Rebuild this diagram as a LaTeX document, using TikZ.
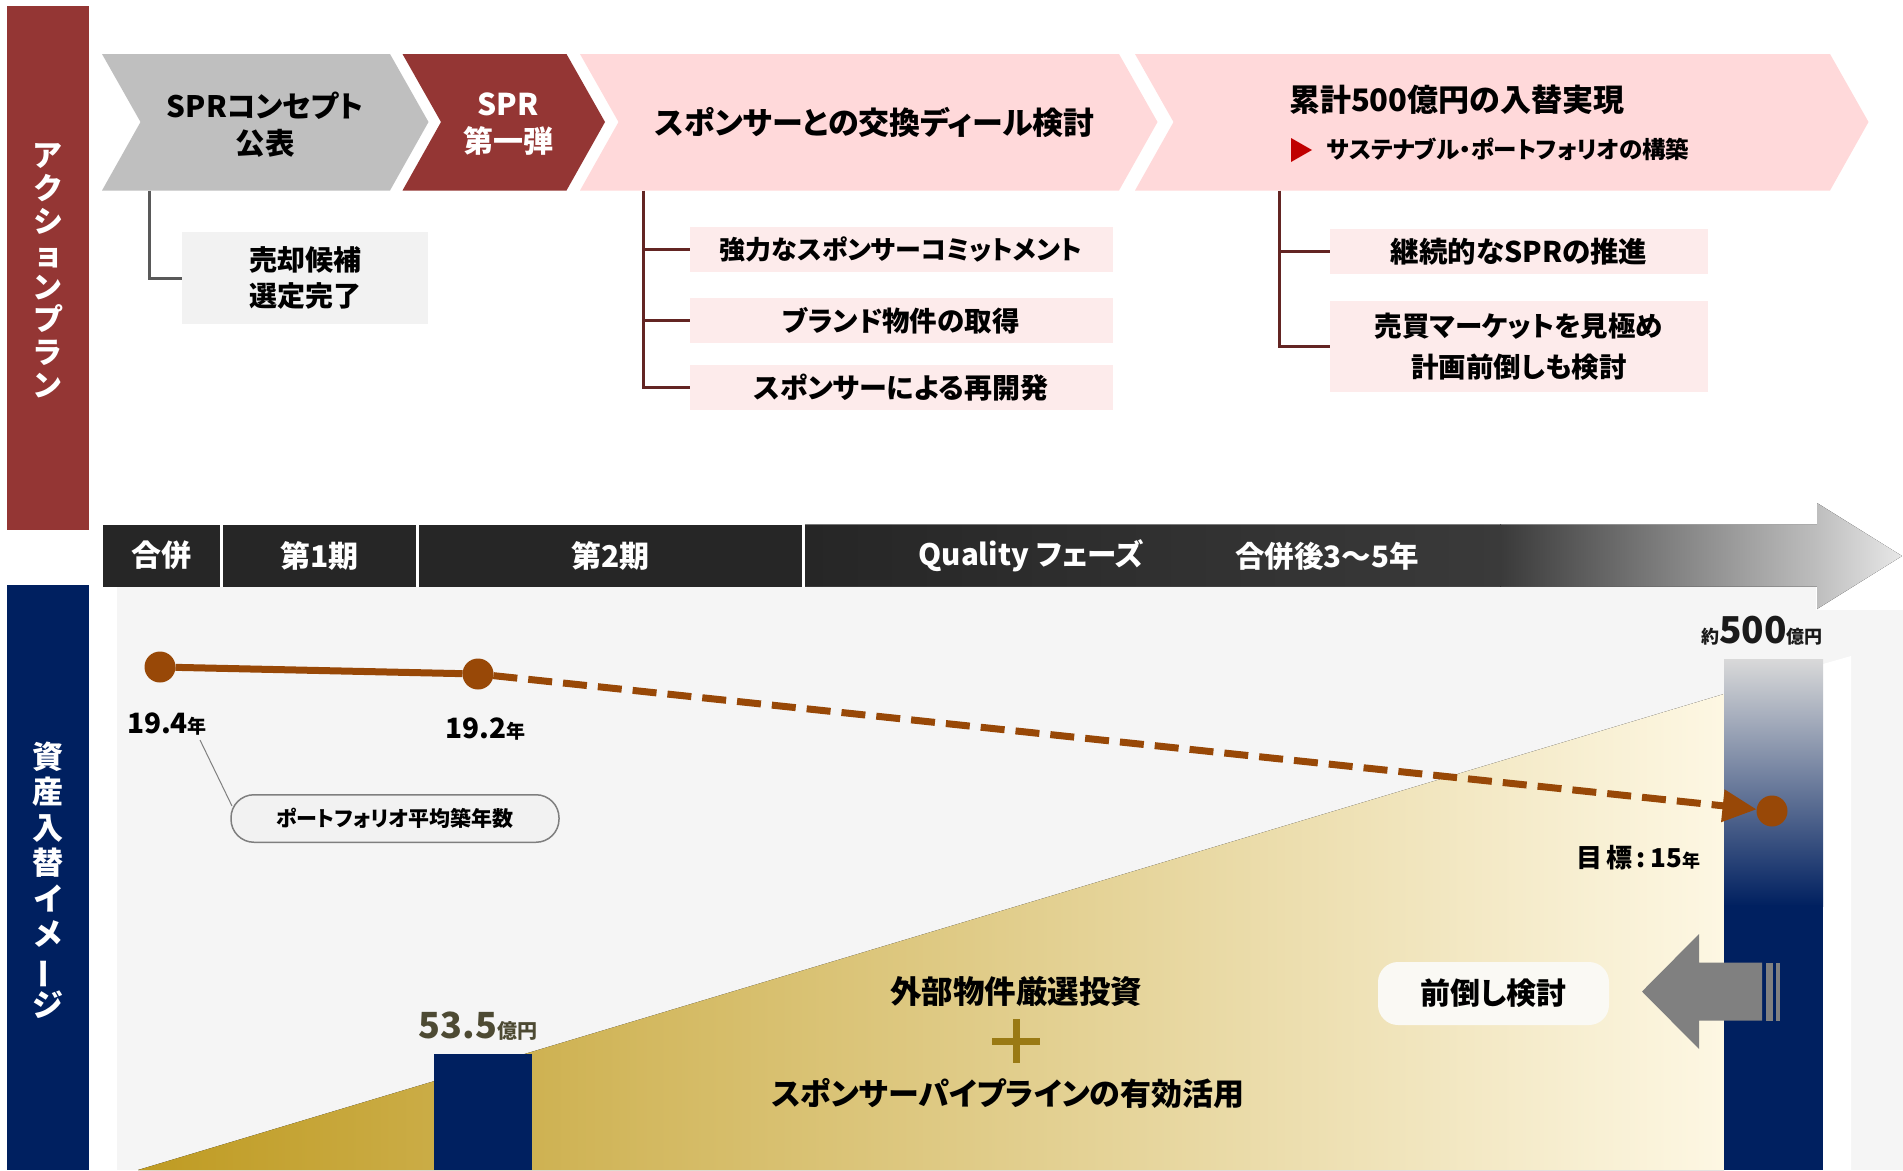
\documentclass[tikz,border=0pt]{standalone}
\usepackage{fontspec}
\usepackage{graphicx}
\setmainfont{Noto Sans CJK JP}[RawFeature=+palt]
\usetikzlibrary{arrows.meta}
\definecolor{spred}{HTML}{943634}
\definecolor{chgray}{HTML}{BFBFBF}
\definecolor{chpink}{HTML}{FFD9DA}
\definecolor{subpink}{HTML}{FDEBEB}
\definecolor{subgray}{HTML}{F2F2F2}
\definecolor{conred}{HTML}{632523}
\definecolor{congray}{HTML}{595959}
\definecolor{spnavy}{HTML}{002060}
\definecolor{spbrown}{HTML}{984807}
\definecolor{tldark}{HTML}{262626}
\definecolor{tlmid}{HTML}{3A3A3A}
\definecolor{tllight}{HTML}{BEBEBE}
\definecolor{tltip}{HTML}{E8E8E8}
\definecolor{panel}{HTML}{F5F5F5}
\definecolor{olive}{HTML}{4D4A33}
\definecolor{plusgold}{HTML}{9A7A14}
\definecolor{arrgray}{HTML}{808080}
\definecolor{offwhite}{HTML}{FAF9F4}
\definecolor{markred}{HTML}{C00000}
\definecolor{goldA}{HTML}{BF9B22}
\definecolor{goldB}{HTML}{E2CD82}
\definecolor{goldC}{HTML}{FDF7E3}
\definecolor{bartop}{HTML}{D9D9D9}
\definecolor{calloutline}{HTML}{7F7F7F}
\definecolor{nearblack}{HTML}{1A1A1A}
\newcommand\myfs[2]{\fontsize{#1}{#2}\selectfont}
\tikzset{
 base/.style={inner sep=0pt, outer sep=0pt},
 hd/.style={base, align=center, font=\myfs{30}{37}\bfseries},
 vtxt/.style={base, align=center, text=white},
 subbox/.style={base, align=center, fill=subpink, font=\myfs{27}{36}\bfseries},
 tcell/.style={base, fill=tldark, text=white, minimum height=62pt, font=\myfs{30}{36}\bfseries},
 ttext/.style={base, text=white, font=\myfs{29.5}{36}\bfseries},
 dotnode/.style={base, circle, fill=spbrown, minimum size=31pt},
 conn/.style={line width=3pt},
 bodytxt/.style={base, align=center, font=\myfs{30}{36}\bfseries},
}
\begin{document}
\begin{tikzpicture}[x=1pt,y=-1pt]
\useasboundingbox (0,0) rectangle (1903,1170);
\fill[white] (0,0) rectangle (1903,1170);

% ---------- left labels ----------
\fill[spred] (7,6) rectangle (89,530);
\node[vtxt, font=\myfs{30}{32.8}\bfseries] (apl) at (48,271) {ア\\ク\\シ\\ョ\\ン\\プ\\ラ\\ン};
\fill[spnavy] (7,585) rectangle (89,1170);
\node[vtxt, font=\myfs{31}{35.5}\bfseries] (asi) at (48,880) {資\\産\\入\\替\\イ\\メ\\\rotatebox[origin=c]{90}{ー}\\ジ};

% ---------- chevrons ----------
\fill[chgray] (102,54) -- (390,54) -- (428.5,122) -- (390,190.5) -- (102,190.5) -- (140.5,122) -- cycle;
\fill[spred] (402.5,54) -- (566.5,54) -- (605,122) -- (566.5,190.5) -- (402.5,190.5) -- (441,122) -- cycle;
\fill[chpink] (580,54) -- (1119,54) -- (1157.5,122) -- (1119,190.5) -- (580,190.5) -- (618.5,122) -- cycle;
\fill[chpink] (1135,54) -- (1830,54) -- (1868.5,122) -- (1830,190.5) -- (1135,190.5) -- (1173.5,122) -- cycle;

\node[hd, font=\myfs{29.5}{37}\bfseries] (c1) at (265,124.5) {SPRコンセプト\\公表};
\node[hd, text=white] (c2) at (508,124.5) {SPR\\第一弾};
\node[hd, font=\myfs{31}{37}\bfseries] (c3) at (875,122) {スポンサーとの交換ディール検討};
\node[hd, anchor=west, font=\myfs{31}{37}\bfseries] (c4) at (1289,100) {累計500億円の入替実現};
\fill[markred] (1291,138) -- (1312,150) -- (1291,162) -- cycle;
\node[base, anchor=west, font=\myfs{23.5}{26}\bfseries] (c4s) at (1327,149) {サステナブル・ポートフォリオの構築};

% ---------- sub boxes ----------
\node[subbox, fill=subgray, font=\myfs{28}{36}\bfseries, minimum width=246pt, minimum height=92pt] (b1) at (305,278) {売却候補\\選定完了};
\node[subbox, font=\myfs{26}{36}\bfseries, minimum width=423pt, minimum height=45pt] (b2) at (901,249) {強力なスポンサーコミットメント};
\node[subbox, font=\myfs{27.5}{36}\bfseries, minimum width=423pt, minimum height=45pt] (b3) at (901,320.5) {ブランド物件の取得};
\node[subbox, font=\myfs{28}{36}\bfseries, minimum width=423pt, minimum height=45pt] (b4) at (901,387.5) {スポンサーによる再開発};
\node[subbox, font=\myfs{28.5}{36}\bfseries, minimum width=378pt, minimum height=45pt] (b5) at (1519,251.3) {継続的なSPRの推進};
\node[subbox, minimum width=378pt, minimum height=91pt, font=\myfs{27.5}{41}\bfseries] (b6) at (1519,346.5) {売買マーケットを見極め\\計画前倒しも検討};

% ---------- connectors ----------
\coordinate (k1) at (149.5,190.5);
\draw[conn, congray] (k1) |- (b1.west);
\coordinate (k2) at (643.5,190.5);
\draw[conn, conred] (k2) |- (b4.west);
\draw[conn, conred] (k2 |- b2.west) -- (b2.west);
\draw[conn, conred] (k2 |- b3.west) -- (b3.west);
\coordinate (k3) at (1279,190.5);
\draw[conn, conred] (k3) |- (b6.west);
\draw[conn, conred] (k3 |- b5.west) -- (b5.west);

% ---------- timeline ----------
\node[tcell, minimum width=117pt] (t1) at (161.5,555.5) {合併};
\node[tcell, minimum width=193.5pt] (t2) at (319.25,555.5) {第1期};
\node[tcell, minimum width=383pt] (t3) at (610.5,555.5) {第2期};
\begin{scope}
\clip (805,524.5) -- (1817,524.5) -- (1817,503) -- (1902,556) -- (1817,609) -- (1817,586.5) -- (805,586.5) -- cycle;
\fill[left color=tldark, right color=tlmid] (805,500) rectangle (1501,612);
\fill[left color=tlmid, right color=tllight] (1500,500) rectangle (1818,612);
\fill[left color=tllight, right color=tltip] (1817,500) rectangle (1903,612);
\end{scope}
\node[ttext] (t4a) at (1031,556) {Quality フェーズ};
\node[ttext] (t4b) at (1327,556) {合併後3〜5年};

% ---------- lower panel ----------
\fill[panel] (117,609.5) rectangle (1903,1170);
\fill[panel] (117,587) rectangle (1816,610);
\fill[left color=goldA, middle color=goldB, right color=goldC] (138,1170) -- (1724,694) -- (1724,1170) -- cycle;
\fill[white] (1823,664) -- (1851,656) -- (1851,1170) -- (1823,1170) -- cycle;

% big bar
\fill[top color=bartop, bottom color=spnavy] (1724,659) rectangle (1823,906);
\fill[spnavy] (1724,905) rectangle (1823,1170);
\node[base, anchor=base, text=nearblack] (big) at (1762,643) {\bfseries\myfs{18}{20}約\myfs{37}{40}500\myfs{18}{20}億円};

% small bar
\fill[spnavy] (433.5,1054) rectangle (532,1170);
\node[base, anchor=base, text=olive] (small) at (478,1038) {\bfseries\myfs{36}{40}53.5\myfs{20}{22}億円};

% texts in gold area
\node[bodytxt, font=\myfs{31.5}{36}\bfseries] (ext) at (1016,992) {外部物件厳選投資};
\fill[plusgold] (992,1037.5) rectangle (1040,1044.5);
\fill[plusgold] (1012.5,1019) rectangle (1019.5,1063);
\node[bodytxt, font=\myfs{31}{36}\bfseries] (pipe) at (1008,1093) {スポンサーパイプラインの有効活用};

% front-loading box and arrow
\node[bodytxt, fill=offwhite, rounded corners=20pt, minimum width=231pt, minimum height=63pt] (mae) at (1493.5,993.5) {前倒し検討};
\fill[arrgray] (1642,991.5) -- (1699,934) -- (1699,962.5) -- (1762,962.5) -- (1762,1020.5) -- (1699,1020.5) -- (1699,1049) -- cycle;
\fill[arrgray] (1766,962.5) rectangle (1772.5,1020.5);
\fill[arrgray] (1776,962.5) rectangle (1780,1020.5);

% ---------- age line ----------
\node[dotnode] (d1) at (160,667) {};
\node[dotnode] (d2) at (478,674) {};
\node[dotnode] (d3) at (1772,811) {};
\draw[spbrown, line width=7pt] (d1) -- (d2);
\draw[spbrown, line width=7pt, dash pattern=on 24pt off 11pt, -{Triangle[length=34pt,width=31pt]}] (d2) -- (d3);

\node[base, anchor=base west] (l1) at (127,733) {\bfseries\myfs{28}{30}19.4\myfs{19}{20}年};
\node[base, anchor=base west] (l2) at (445.5,738) {\bfseries\myfs{28}{30}19.2\myfs{19}{20}年};
\node[base, anchor=base east] (l3) at (1700,867) {\bfseries\myfs{26}{30}目\,標\,:\,15\myfs{18}{20}年};

\node[base, fill=subgray, draw=calloutline, line width=1.5pt, rounded corners=23pt, minimum width=328pt, minimum height=47.5pt, font=\myfs{21}{24}\bfseries] (cb) at (395,818.5) {ポートフォリオ平均築年数};
\coordinate (cl1) at (200,740);
\coordinate (cl2) at (232,806);
\draw[calloutline, line width=1pt] (cl1) -- (cl2);
\end{tikzpicture}
\end{document}
